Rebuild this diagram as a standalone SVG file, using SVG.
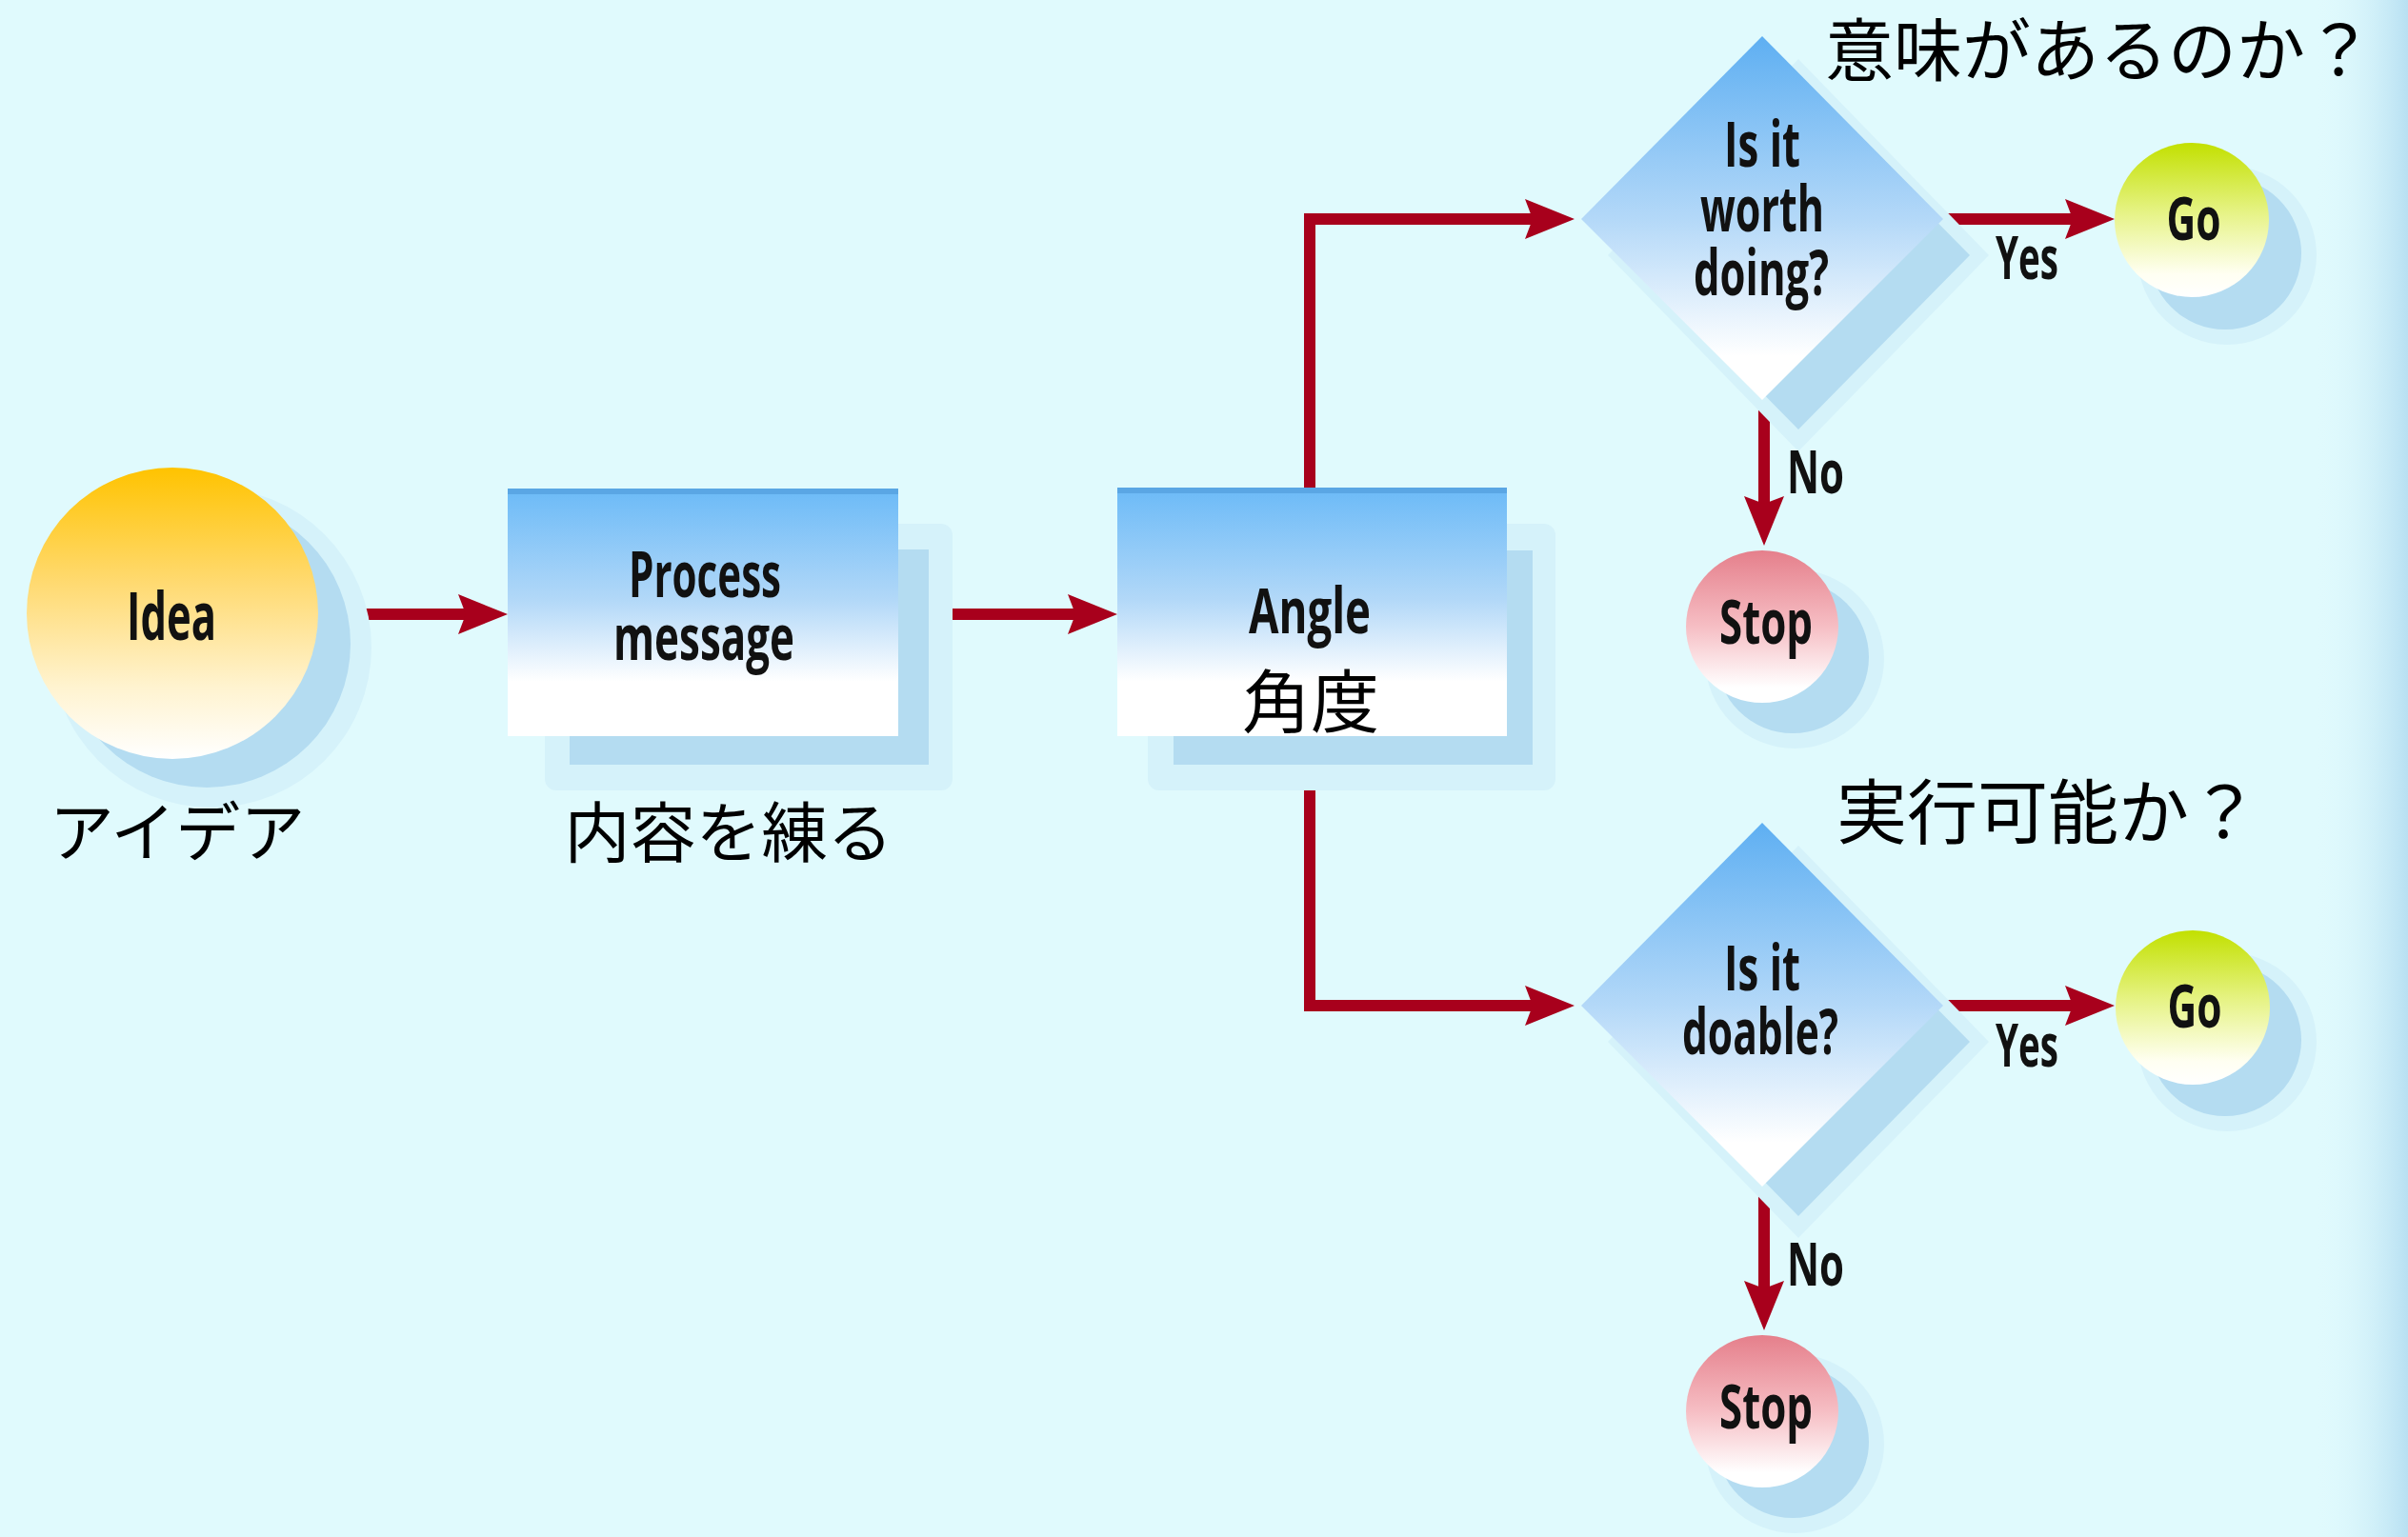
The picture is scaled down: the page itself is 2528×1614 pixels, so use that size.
<svg xmlns="http://www.w3.org/2000/svg" width="2528" height="1614" viewBox="0 0 2528 1614">
<defs>
<style>
.lbl{font-family:"Open Sans","Liberation Sans",sans-serif;font-weight:700;fill:#111;}
.jp{font-family:"Noto Sans CJK JP","Noto Sans CJK SC",sans-serif;font-weight:400;fill:#000;}
.con{fill:none;stroke:#A8001C;stroke-width:12;stroke-linejoin:miter;}
.halo{fill:#D5F2FA;}
.shadow{fill:#B4DCF1;}
</style>
<linearGradient id="bgR" x1="0" y1="0" x2="1" y2="0">
<stop offset="0" stop-color="#E0FAFD" stop-opacity="0"/>
<stop offset="1" stop-color="#B8E0F2"/>
</linearGradient>
<linearGradient id="gIdea" x1="0" y1="0" x2="0" y2="1">
<stop offset="0" stop-color="#FFC300"/>
<stop offset="0.4" stop-color="#FFDA72"/>
<stop offset="0.75" stop-color="#FFF3CF"/>
<stop offset="1" stop-color="#FFFFFF"/>
</linearGradient>
<linearGradient id="gBox" x1="0" y1="0" x2="0" y2="1">
<stop offset="0" stop-color="#6BBAF7"/>
<stop offset="0.45" stop-color="#B2D8F8"/>
<stop offset="0.78" stop-color="#FFFFFF"/>
<stop offset="1" stop-color="#FFFFFF"/>
</linearGradient>
<linearGradient id="gDia" x1="0" y1="0" x2="0" y2="1">
<stop offset="0" stop-color="#5EAFF2"/>
<stop offset="0.5" stop-color="#B3D8F8"/>
<stop offset="0.88" stop-color="#FFFFFF"/>
<stop offset="1" stop-color="#FFFFFF"/>
</linearGradient>
<linearGradient id="gGo" x1="0" y1="0" x2="0" y2="1">
<stop offset="0" stop-color="#C2E000"/>
<stop offset="0.45" stop-color="#E6F385"/>
<stop offset="0.85" stop-color="#FFFFF2"/>
<stop offset="1" stop-color="#FFFFFF"/>
</linearGradient>
<linearGradient id="gStop" x1="0" y1="0" x2="0" y2="1">
<stop offset="0" stop-color="#E57F8B"/>
<stop offset="0.5" stop-color="#F6BEC4"/>
<stop offset="0.9" stop-color="#FFFFFF"/>
<stop offset="1" stop-color="#FFFFFF"/>
</linearGradient>
<marker id="arr" markerUnits="userSpaceOnUse" markerWidth="54" markerHeight="46" refX="8" refY="23" orient="auto">
<path d="M0,2 L52,23 L0,44 L8,23 Z" fill="#A8001C"/>
</marker>
</defs>

<rect width="2528" height="1614" fill="#E0FAFD"/>
<rect x="2430" y="0" width="98" height="1614" fill="url(#bgR)"/>

<g id="connectors">
<path class="con" d="M333,645 H489" marker-end="url(#arr)"/>
<path class="con" d="M943,645 H1129" marker-end="url(#arr)"/>
<path class="con" d="M1375,512 V230 H1609" marker-end="url(#arr)"/>
<path class="con" d="M1375,773 V1056 H1609" marker-end="url(#arr)"/>
<path class="con" d="M2042,230 H2176" marker-end="url(#arr)"/>
<path class="con" d="M1852,422 V529" marker-end="url(#arr)"/>
<path class="con" d="M2042,1056 H2176" marker-end="url(#arr)"/>
<path class="con" d="M1852,1250 V1353" marker-end="url(#arr)"/>
</g>

<g id="idea">
<circle class="halo" cx="222" cy="680" r="168"/>
<circle class="shadow" cx="217" cy="676" r="151"/>
<circle cx="181" cy="644" r="153" fill="url(#gIdea)"/>
<text class="lbl" x="180" y="672" font-size="70" text-anchor="middle" textLength="94" lengthAdjust="spacingAndGlyphs">Idea</text>
<text class="jp" x="186" y="899" font-size="68" text-anchor="middle">アイデア</text>
</g>

<g id="process">
<rect class="halo" x="572" y="550" width="428" height="280" rx="12"/>
<rect class="shadow" x="598" y="577" width="377" height="226"/>
<rect x="533" y="513" width="410" height="260" fill="url(#gBox)"/>
<rect x="533" y="513" width="410" height="6" fill="#5AA6E4"/>
<text class="lbl" x="740" y="627" font-size="66" text-anchor="middle" textLength="160" lengthAdjust="spacingAndGlyphs">Process</text>
<text class="lbl" x="739" y="693" font-size="66" text-anchor="middle" textLength="190" lengthAdjust="spacingAndGlyphs">message</text>
<text class="jp" x="765" y="900" font-size="69" text-anchor="middle">内容を練る</text>
</g>

<g id="angle">
<rect class="halo" x="1205" y="550" width="428" height="280" rx="12"/>
<rect class="shadow" x="1232" y="578" width="377" height="225"/>
<rect x="1173" y="512" width="409" height="261" fill="url(#gBox)"/>
<rect x="1173" y="512" width="409" height="6" fill="#5AA6E4"/>
<text class="lbl" x="1375" y="665" font-size="67" text-anchor="middle" textLength="128" lengthAdjust="spacingAndGlyphs">Angle</text>
<text class="jp" x="1376" y="763" font-size="72" text-anchor="middle">角度</text>
</g>

<g id="q-worth">
<path class="halo" d="M1888,62 L2088,268 L1888,474 L1688,268 Z"/>
<path class="shadow" d="M1888,85 L2068,268 L1888,451 L1708,268 Z"/>
<path d="M1850,38 L2040,230 L1850,420 L1660,230 Z" fill="url(#gDia)"/>
<text class="lbl" x="1850" y="175" font-size="67" text-anchor="middle" textLength="80" lengthAdjust="spacingAndGlyphs">Is it</text>
<text class="lbl" x="1850" y="243" font-size="67" text-anchor="middle" textLength="130" lengthAdjust="spacingAndGlyphs">worth</text>
<text class="lbl" x="1849" y="310" font-size="67" text-anchor="middle" textLength="142" lengthAdjust="spacingAndGlyphs">doing?</text>
<text class="jp" x="1916" y="79" font-size="72">意味があるのか？</text>
</g>

<g id="go-1">
<circle class="halo" cx="2338" cy="268" r="94"/>
<circle class="shadow" cx="2336" cy="266" r="80"/>
<circle cx="2301" cy="231" r="81" fill="url(#gGo)"/>
<text class="lbl" x="2303" y="252" font-size="62" text-anchor="middle" textLength="57" lengthAdjust="spacingAndGlyphs">Go</text>
</g>
<text class="lbl" x="2128" y="293" font-size="62" text-anchor="middle" textLength="66" lengthAdjust="spacingAndGlyphs">Yes</text>

<g id="stop-1">
<circle class="halo" cx="1884" cy="692" r="94"/>
<circle class="shadow" cx="1882" cy="690" r="80"/>
<circle cx="1850" cy="658" r="80" fill="url(#gStop)"/>
<text class="lbl" x="1854" y="676" font-size="64" text-anchor="middle" textLength="98" lengthAdjust="spacingAndGlyphs">Stop</text>
</g>
<text class="lbl" x="1906" y="518" font-size="62" text-anchor="middle" textLength="60" lengthAdjust="spacingAndGlyphs">No</text>

<g id="q-doable">
<path class="halo" d="M1888,888 L2088,1094 L1888,1300 L1688,1094 Z"/>
<path class="shadow" d="M1888,911 L2068,1094 L1888,1277 L1708,1094 Z"/>
<path d="M1850,864 L2040,1056 L1850,1246 L1660,1056 Z" fill="url(#gDia)"/>
<text class="lbl" x="1850" y="1040" font-size="67" text-anchor="middle" textLength="80" lengthAdjust="spacingAndGlyphs">Is it</text>
<text class="lbl" x="1848" y="1107" font-size="67" text-anchor="middle" textLength="164" lengthAdjust="spacingAndGlyphs">doable?</text>
<text class="jp" x="1928" y="880" font-size="74">実行可能か？</text>
</g>

<g id="go-2">
<circle class="halo" cx="2338" cy="1094" r="94"/>
<circle class="shadow" cx="2336" cy="1092" r="80"/>
<circle cx="2302" cy="1058" r="81" fill="url(#gGo)"/>
<text class="lbl" x="2304" y="1079" font-size="62" text-anchor="middle" textLength="57" lengthAdjust="spacingAndGlyphs">Go</text>
</g>
<text class="lbl" x="2128" y="1120" font-size="62" text-anchor="middle" textLength="66" lengthAdjust="spacingAndGlyphs">Yes</text>

<g id="stop-2">
<circle class="halo" cx="1884" cy="1516" r="94"/>
<circle class="shadow" cx="1882" cy="1514" r="80"/>
<circle cx="1850" cy="1482" r="80" fill="url(#gStop)"/>
<text class="lbl" x="1854" y="1500" font-size="64" text-anchor="middle" textLength="98" lengthAdjust="spacingAndGlyphs">Stop</text>
</g>
<text class="lbl" x="1906" y="1350" font-size="62" text-anchor="middle" textLength="60" lengthAdjust="spacingAndGlyphs">No</text>
</svg>
